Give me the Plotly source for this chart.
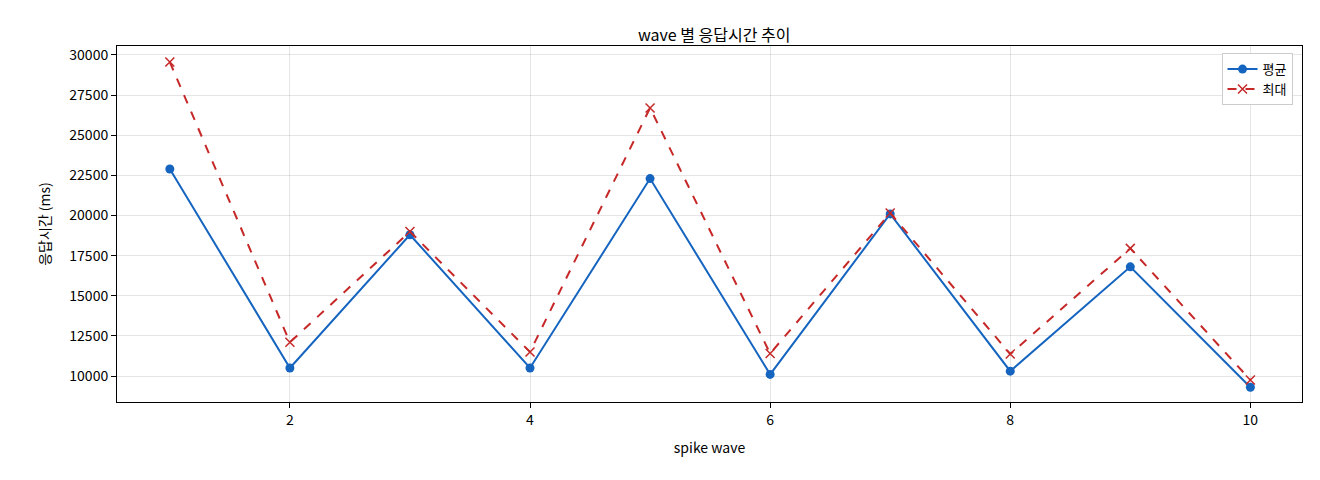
import plotly.graph_objects as go

waves = [1, 2, 3, 4, 5, 6, 7, 8, 9, 10]
avg_ms = [22900, 10500, 18800, 10500, 22300, 10100, 20100, 10300, 16800, 9300]
max_ms = [29560, 12100, 19000, 11500, 26700, 11400, 20150, 11370, 17950, 9750]

fig = go.Figure()
fig.add_trace(go.Scatter(x=waves, y=avg_ms, name="평균", mode="lines+markers",
                         line=dict(color="#1565c0", width=2), marker=dict(size=9, color="#1565c0")))
fig.add_trace(go.Scatter(x=waves, y=max_ms, name="최대", mode="lines+markers",
                         line=dict(color="#c62828", width=2, dash="dash"),
                         marker=dict(symbol="x-thin", size=9, line=dict(width=1.5, color="#c62828"), color="#c62828")))

axis = dict(showline=True, mirror=True, linecolor="black", linewidth=1, ticks="outside",
            tickcolor="black", showgrid=True, gridcolor="rgba(0,0,0,0.1)", zeroline=False,
            tickfont=dict(size=14, color="black"), automargin=False)
fig.update_layout(
    width=1320, height=480, plot_bgcolor="white", paper_bgcolor="white",
    font=dict(family="Noto Sans CJK KR, DejaVu Sans", color="black"),
    margin=dict(l=109, r=26, t=38, b=86),
    title=dict(text="wave 별 응답시간 추이", x=0.535, xanchor="center", y=0.955, font=dict(size=16)),
    xaxis=dict(axis, range=[0.56, 10.43], tickvals=[2, 4, 6, 8, 10],
               title=dict(text="spike wave", font=dict(size=14))),
    yaxis=dict(axis, range=[8380, 30560], tickvals=list(range(10000, 30001, 2500)), tickformat="d",
               title=dict(text="응답시간 (ms)", font=dict(size=14))),
    legend=dict(x=0.992, y=0.98, xanchor="right", yanchor="top", bordercolor="#cccccc",
                borderwidth=1, bgcolor="white", font=dict(size=13)),
)
fig.write_html("out.html")
